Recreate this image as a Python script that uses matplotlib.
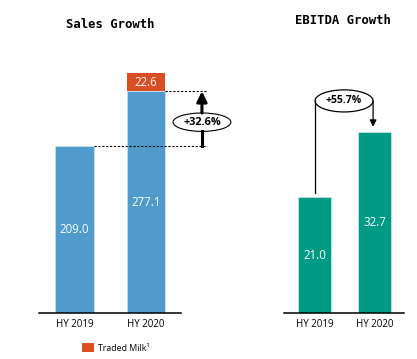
import matplotlib
matplotlib.use("Agg")
import matplotlib.pyplot as plt
from matplotlib.patches import Ellipse

# ---- data ----
periods = ["HY 2019", "HY 2020"]
sales_base = [209.0, 277.1]
sales_traded = [0.0, 22.6]
sales_growth = "+32.6%"
ebitda = [21.0, 32.7]
ebitda_growth = "+55.7%"

BLUE = "#509BCB"
ORANGE = "#DA4F21"
TEAL = "#009B84"

plt.rcParams['font.family'] = ['Open Sans', 'DejaVu Sans']

fig = plt.figure(figsize=(4.17, 3.59), dpi=100)

def style_axes(ax):
    for s in ["left", "right", "top"]:
        ax.spines[s].set_visible(False)
    ax.spines["bottom"].set_linewidth(1.1)
    ax.set_yticks([])
    ax.tick_params(axis="x", length=0, labelsize=7, pad=4)

# ---- Sales Growth ----
ax1 = fig.add_axes([39/417, 46/359, 142/417, 264/359])
w1 = 0.545
x = [0, 1]
ax1.bar(x, sales_base, width=w1, color=BLUE, edgecolor="#cfe3f1", linewidth=0.5)
ax1.bar(x[1], sales_traded[1], bottom=sales_base[1], width=w1, color=ORANGE,
        label="Traded Milk$^1$")
ax1.set_xlim(-0.497, 1.49)
ax1.set_ylim(0, 330)
ax1.set_xticks(x, periods)
style_axes(ax1)

for i, v in enumerate(sales_base):
    ax1.text(x[i], v / 2, f"{v:.1f}", color="white", ha="center", va="center", fontsize=8.3)
ax1.text(1, sales_base[1] + sales_traded[1] / 2, f"{sales_traded[1]:.1f}", color="white",
         ha="center", va="center", fontsize=8.3)

xa = 1.783
xr = 1.853
ax1.plot([w1 / 2, xr], [sales_base[0]] * 2, color="black", lw=0.8, ls=(0, (2, 1.5)), clip_on=False)
ax1.plot([1 + w1 / 2, xr], [sales_base[1]] * 2, color="black", lw=0.8, ls=(0, (2, 1.5)), clip_on=False)
ecy = 238.5
eh = 23
ax1.annotate("", xy=(xa, sales_base[1]), xytext=(xa, ecy + eh / 2),
             arrowprops=dict(arrowstyle="-|>,head_width=0.3,head_length=0.6", lw=2.2, color="black",
                             shrinkA=0, shrinkB=0), annotation_clip=False)
ax1.plot([xa, xa], [ecy - eh / 2, sales_base[0]], color="black", lw=2.2, clip_on=False)
ax1.add_patch(Ellipse((xa, ecy), 0.81, eh, facecolor="white", edgecolor="black", lw=0.8, clip_on=False))
ax1.text(xa, ecy, sales_growth, ha="center", va="center", fontsize=7.8, fontweight="bold")

# ---- EBITDA Growth ----
ax2 = fig.add_axes([284/417, 46/359, 120/417, 264/359])
w2 = 0.55
ax2.bar(x, ebitda, width=w2, color=TEAL, edgecolor="#cfeae4", linewidth=0.5)
ax2.set_xlim(-0.508, 1.49)
ax2.set_ylim(0, 47.8)
ax2.set_xticks(x, periods)
style_axes(ax2)

for i, v in enumerate(ebitda):
    ax2.text(x[i], v / 2, f"{v:.1f}", color="white", ha="center", va="center", fontsize=8.3)

ecx, ecy2, ew2, eh2 = 0.492, 38.4, 0.967, 4.0
ax2.plot([ecx - ew2 / 2] * 2, [ecy2, ebitda[0] + 0.8], color="black", lw=0.9, clip_on=False)
ax2.annotate("", xy=(ecx + ew2 / 2, ebitda[1] + 1.0), xytext=(ecx + ew2 / 2, ecy2),
             arrowprops=dict(arrowstyle="-|>,head_width=0.2,head_length=0.4", lw=0.9, color="black",
                             shrinkA=0, shrinkB=0), annotation_clip=False)
ax2.add_patch(Ellipse((ecx, ecy2), ew2, eh2, facecolor="white", edgecolor="black", lw=0.9, clip_on=False))
ax2.text(ecx, ecy2, ebitda_growth, ha="center", va="center", fontsize=7.5, fontweight="bold")

# ---- titles & legend ----
title_font = ['DejaVu Sans Mono', 'DejaVu Sans']
fig.text(110/417, 1 - 25/359, "Sales Growth", ha="center", va="center", fontsize=8.8,
         fontweight="bold", family=title_font)
fig.text(343/417, 1 - 21/359, "EBITDA Growth", ha="center", va="center", fontsize=8.8,
         fontweight="bold", family=title_font)

fig.legend(handles=[ax1.containers[1]], labels=["Traded Milk\u00b9"], loc="center",
           bbox_to_anchor=(116/417, 1 - 348/359), frameon=False, fontsize=6.3,
           handlelength=1.3, handleheight=1.1, handletextpad=0.5, borderpad=0)

fig.savefig("out.png", dpi=100)
